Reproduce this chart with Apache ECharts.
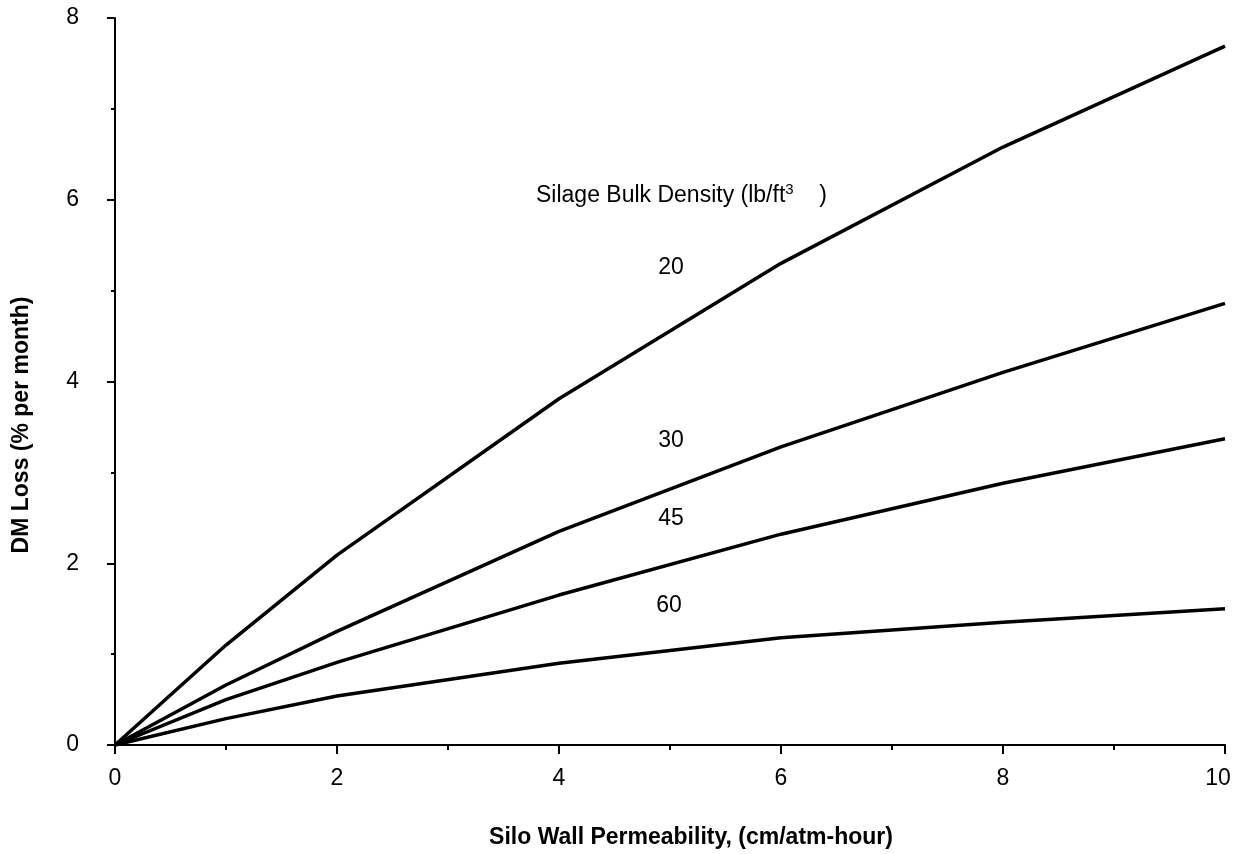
<!DOCTYPE html>
<html>
<head>
<meta charset="utf-8">
<script src="https://cdn.jsdelivr.net/npm/echarts@6/dist/echarts.min.js"></script>
<style>
  html, body { margin: 0; padding: 0; background: #fff; }
  #main { width: 1235px; height: 854px; }
</style>
</head>
<body>
<div id="main"></div>
<script>
// permeability (cm/atm-hour)
var permeability = [0, 1, 2, 4, 6, 8, 10];
// DM loss (% per month) by silage bulk density
var loss20 = [0, 1.10, 2.09, 3.81, 5.30, 6.58, 7.69];
var loss30 = [0, 0.66, 1.25, 2.35, 3.28, 4.10, 4.86];
var loss45 = [0, 0.50, 0.91, 1.65, 2.32, 2.88, 3.37];
var loss60 = [0, 0.29, 0.54, 0.90, 1.18, 1.35, 1.50];
var densities = ['20', '30', '45', '60'];

var chart = echarts.init(document.getElementById('main'));

var font = 'Liberation Sans, Arial, Helvetica, sans-serif';
var fs = 23;

function pairs(ys) {
  return permeability.map(function (x, i) { return [x, ys[i]]; });
}

function lineSeries(name, ys) {
  return {
    name: name,
    type: 'line',
    data: pairs(ys),
    symbol: 'none',
    lineStyle: { color: '#000', width: 3.5 },
    silent: true
  };
}

function label(text, x, y) {
  return {
    type: 'text',
    x: x,
    y: y,
    style: { text: text, fontSize: fs, fontFamily: font, fill: '#000', align: 'center', verticalAlign: 'middle' }
  };
}

var option = {
  backgroundColor: '#fff',
  animation: false,
  grid: {
    left: 115,
    right: 10,
    top: 18,
    bottom: 109,
    outerBoundsMode: 'none'
  },
  xAxis: {
    type: 'value',
    min: 0,
    max: 10,
    interval: 2,
    axisLine: { lineStyle: { color: '#000', width: 2 } },
    axisTick: { length: 9, lineStyle: { color: '#000', width: 2 } },
    minorTick: { show: true, splitNumber: 2, length: 5, lineStyle: { color: '#000', width: 2 } },
    axisLabel: {
      color: '#000', fontSize: fs, fontFamily: font, margin: 22,
      // last label sits a little left so it stays inside the page
      formatter: function (v) { return v === 10 ? '{r|' + v + '}' : String(v); },
      rich: { r: { fontSize: fs, fontFamily: font, color: '#000', padding: [0, 14, 0, 0] } }
    },
    splitLine: { show: false }
  },
  yAxis: {
    type: 'value',
    min: 0,
    max: 8,
    interval: 2,
    axisLine: { lineStyle: { color: '#000', width: 2 } },
    axisTick: { length: 8, lineStyle: { color: '#000', width: 2 } },
    minorTick: { show: true, splitNumber: 2, length: 4, lineStyle: { color: '#000', width: 2 } },
    axisLabel: { color: '#000', fontSize: fs, fontFamily: font, margin: 36 },
    splitLine: { show: false }
  },
  graphic: [
    {
      type: 'text',
      x: 691,
      y: 838,
      style: {
        text: 'Silo Wall Permeability, (cm/atm-hour)',
        fontSize: fs, fontWeight: 'bold', fontFamily: font, fill: '#000',
        align: 'center', verticalAlign: 'middle'
      }
    },
    {
      type: 'text',
      x: 22,
      y: 425,
      rotation: Math.PI / 2,
      style: {
        text: 'DM Loss (% per month)',
        fontSize: fs, fontWeight: 'bold', fontFamily: font, fill: '#000',
        align: 'center', verticalAlign: 'middle'
      }
    },
    {
      type: 'text',
      x: 536,
      y: 182,
      style: {
        text: '{a|Silage Bulk Density (lb/ft}{s|3}{a|    )}',
        rich: {
          a: { fontSize: fs, fontFamily: font, fill: '#000' },
          s: { fontSize: 15, fontFamily: font, fill: '#000', verticalAlign: 'top', padding: [0, 0, 12, 0] }
        }
      }
    },
    label(densities[0], 671, 268),
    label(densities[1], 671, 441),
    label(densities[2], 671, 519),
    label(densities[3], 669, 606)
  ],
  series: [
    lineSeries(densities[0], loss20),
    lineSeries(densities[1], loss30),
    lineSeries(densities[2], loss45),
    lineSeries(densities[3], loss60)
  ]
};

chart.setOption(option);
</script>
</body>
</html>
